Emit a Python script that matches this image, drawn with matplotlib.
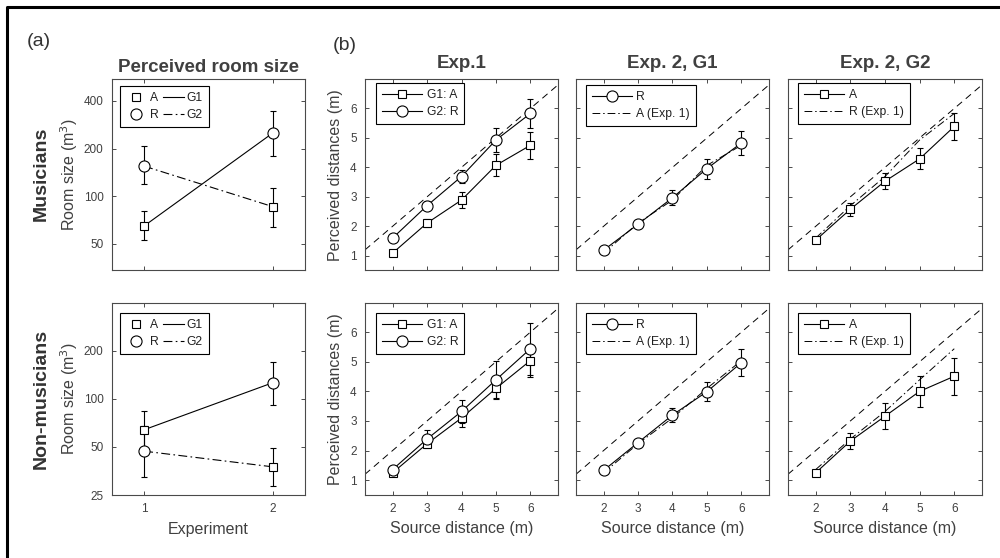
import matplotlib
matplotlib.use("Agg")
import matplotlib.pyplot as plt
from matplotlib.lines import Line2D
from matplotlib.ticker import FixedLocator, NullLocator, FixedFormatter

plt.rcParams['font.family'] = ['Liberation Sans', 'DejaVu Sans']

# ---- data -------------------------------------------------------------
experiments = [1, 2]
source_dist = [2, 3, 4, 5, 6]

# (a) perceived room size (m^3), G1 did A then R, G2 did R then A
mus_g1 = [65, 251]
mus_g1_lo = [53, 180]
mus_g1_hi = [81, 345]
mus_g2 = [155, 86]
mus_g2_lo = [119, 64]
mus_g2_hi = [207, 113]
non_g1 = [64, 126]
non_g1_lo = [49, 92]
non_g1_hi = [84, 170]
non_g2 = [47, 37.5]
non_g2_lo = [32.4, 28.5]
non_g2_hi = [68, 49.5]

# (b) perceived distances (m), mean and error
mus_exp1_A = [1.09, 2.11, 2.89, 4.07, 4.75]
mus_exp1_A_err = [0.05, 0.15, 0.27, 0.37, 0.46]
mus_exp1_R = [1.60, 2.70, 3.69, 4.93, 5.83]
mus_exp1_R_err = [0.08, 0.15, 0.22, 0.40, 0.50]
mus_exp2_g1_R = [1.19, 2.07, 2.97, 3.96, 4.83]
mus_exp2_g1_R_err = [0.05, 0.07, 0.25, 0.34, 0.40]
mus_exp2_g2_A = [1.53, 2.58, 3.53, 4.29, 5.39]
mus_exp2_g2_A_err = [0.06, 0.22, 0.28, 0.36, 0.45]

non_exp1_A = [1.25, 2.23, 3.10, 4.10, 5.04]
non_exp1_A_err = [0.05, 0.12, 0.29, 0.36, 0.54]
non_exp1_R = [1.36, 2.39, 3.32, 4.39, 5.44]
non_exp1_R_err = [0.06, 0.30, 0.40, 0.63, 0.88]
non_exp2_g1_R = [1.33, 2.27, 3.20, 3.99, 4.97]
non_exp2_g1_R_err = [0.04, 0.06, 0.25, 0.32, 0.45]
non_exp2_g2_A = [1.25, 2.32, 3.16, 4.00, 4.51]
non_exp2_g2_A_err = [0.05, 0.27, 0.43, 0.53, 0.62]

# ---- style ------------------------------------------------------------
W, H = 1000, 558
TXT = '#404040'
AX = '#4a4a4a'
LW = 0.8
DASH = (0, (7, 5))
DASHDOT = (0, (8, 3, 1.5, 3))
sq = dict(marker='s', ms=6, mfc='white', mec='black', mew=0.8)
ci = dict(marker='o', ms=8, mfc='white', mec='black', mew=0.8)
eb = dict(ecolor='black', elinewidth=0.8, capsize=2, capthick=0.8)

fig = plt.figure(figsize=(W / 100, H / 100), dpi=100)
fig.patch.set_facecolor('white')


def px_axes(x0, y0, x1, y1):
    return fig.add_axes([x0 / W, 1 - y1 / H, (x1 - x0) / W, (y1 - y0) / H])


def style_axes(ax):
    for s in ax.spines.values():
        s.set_color(AX)
        s.set_linewidth(0.8)
    ax.tick_params(which='both', direction='in', top=True, right=True,
                   length=3, width=0.7, color=AX, labelcolor=TXT,
                   labelsize=8.5, pad=6)


def add_legend(ax, handles, labels, x, y, **kw):
    leg = ax.legend(handles, labels, loc='upper left', bbox_to_anchor=(x, y),
                    borderaxespad=0, fancybox=False, framealpha=1,
                    edgecolor='black', fontsize=8.7, labelspacing=0.4,
                    borderpad=0.5, **kw)
    leg.get_frame().set_linewidth(0.8)
    for t in leg.get_texts():
        t.set_color('#202020')
    return leg


cols = [(112, 305), (365, 558), (576, 769), (788, 982)]
rows = [(79, 270.5), (302.5, 495)]

# ---- (a) room size ----------------------------------------------------
room_rows = [
    (mus_g1, mus_g1_lo, mus_g1_hi, mus_g2, mus_g2_lo, mus_g2_hi,
     (34, 550), [50, 100, 200, 400], 0.963),
    (non_g1, non_g1_lo, non_g1_hi, non_g2, non_g2_lo, non_g2_hi,
     (25, 400), [25, 50, 100, 200], 0.945),
]
for r, (g1, g1lo, g1hi, g2, g2lo, g2hi, ylim, yt, legy) in enumerate(room_rows):
    ax = px_axes(cols[0][0], rows[r][0], cols[0][1], rows[r][1])
    style_axes(ax)
    ax.set_yscale('log')
    ax.plot(experiments, g1, '-', color='black', lw=LW, zorder=2)
    ax.plot(experiments, g2, linestyle=DASHDOT, color='black', lw=LW, zorder=2)
    # condition A: G1 in exp 1, G2 in exp 2 ; condition R: the other way
    a_y = [g1[0], g2[1]]
    a_lo = [g1[0] - g1lo[0], g2[1] - g2lo[1]]
    a_hi = [g1hi[0] - g1[0], g2hi[1] - g2[1]]
    r_y = [g2[0], g1[1]]
    r_lo = [g2[0] - g2lo[0], g1[1] - g1lo[1]]
    r_hi = [g2hi[0] - g2[0], g1hi[1] - g1[1]]
    ax.errorbar(experiments, r_y, yerr=[r_lo, r_hi], fmt='none', zorder=3, **eb)
    ax.errorbar(experiments, a_y, yerr=[a_lo, a_hi], fmt='none', zorder=3, **eb)
    ax.plot(experiments, r_y, linestyle='none', zorder=4, **ci)
    ax.plot(experiments, a_y, linestyle='none', zorder=4, **sq)
    ax.set_xlim(0.75, 2.25)
    ax.set_ylim(*ylim)
    ax.yaxis.set_major_locator(FixedLocator(yt))
    ax.yaxis.set_major_formatter(FixedFormatter([str(v) for v in yt]))
    ax.yaxis.set_minor_locator(NullLocator())
    ax.set_xticks(experiments)
    if r == 0:
        ax.set_xticklabels([])
        ax.set_title('Perceived room size', fontsize=13.5, fontweight='bold',
                     color=TXT, pad=5)
    else:
        ax.set_xlabel('Experiment', fontsize=11.5, color=TXT, labelpad=5)
    ax.set_ylabel('Room size (m$^3$)', fontsize=11.5, color=TXT, labelpad=3)
    h = [Line2D([], [], linestyle='none', **sq),
         Line2D([], [], linestyle='none', **ci),
         Line2D([], [], color='black', lw=LW),
         Line2D([], [], color='black', lw=LW, linestyle=DASHDOT)]
    add_legend(ax, h, ['A', 'R', 'G1', 'G2'], 0.041, legy, ncol=2,
               handlelength=1.7, handletextpad=0.25, columnspacing=0.4)

# ---- (b) distances ----------------------------------------------------
panels = [
    # row 0: musicians
    [
        ('Exp.1', [(mus_exp1_A, mus_exp1_A_err, sq), (mus_exp1_R, mus_exp1_R_err, ci)],
         None, ['G1: A', 'G2: R'], 0.977),
        ('Exp. 2, G1', [(mus_exp2_g1_R, mus_exp2_g1_R_err, ci)],
         mus_exp1_A, ['R', 'A (Exp. 1)'], 0.969),
        ('Exp. 2, G2', [(mus_exp2_g2_A, mus_exp2_g2_A_err, sq)],
         mus_exp1_R, ['A', 'R (Exp. 1)'], 0.979),
    ],
    # row 1: non-musicians
    [
        ('', [(non_exp1_A, non_exp1_A_err, sq), (non_exp1_R, non_exp1_R_err, ci)],
         None, ['G1: A', 'G2: R'], 0.944),
        ('', [(non_exp2_g1_R, non_exp2_g1_R_err, ci)],
         non_exp1_A, ['R', 'A (Exp. 1)'], 0.946),
        ('', [(non_exp2_g2_A, non_exp2_g2_A_err, sq)],
         non_exp1_R, ['A', 'R (Exp. 1)'], 0.946),
    ],
]
leg_x = [0.057, 0.05, 0.052]

for r in range(2):
    for c in range(3):
        title, series, ref, labels, legy = panels[r][c]
        ax = px_axes(cols[c + 1][0], rows[r][0], cols[c + 1][1], rows[r][1])
        style_axes(ax)
        ax.axline((0, 0), slope=1, color='black', lw=0.7, linestyle=DASH, zorder=1)
        handles = []
        if ref is not None:
            ax.plot(source_dist, ref, color='black', lw=0.7, linestyle=DASHDOT, zorder=2)
        for vals, err, mk in series:
            ax.errorbar(source_dist, vals, yerr=err, fmt='none', zorder=3, **eb)
            ln, = ax.plot(source_dist, vals, '-', color='black', lw=LW, zorder=4, **mk)
            handles.append(ln)
        if ref is not None:
            handles.append(Line2D([], [], color='black', lw=0.7, linestyle=DASHDOT))
        ax.set_xlim(1.2, 6.8)
        ax.set_ylim(0.5, 7)
        ax.set_xticks(source_dist)
        ax.set_yticks([1, 2, 3, 4, 5, 6])
        if c > 0:
            ax.set_yticklabels([])
        else:
            ax.set_ylabel('Perceived distances (m)', fontsize=11.5, color=TXT, labelpad=5)
        if r == 0:
            ax.set_xticklabels([])
            ax.set_title(title, fontsize=13.5, fontweight='bold', color=TXT, pad=8)
        else:
            ax.set_xlabel('Source distance (m)', fontsize=11.5, color=TXT, labelpad=4)
        add_legend(ax, handles, labels, leg_x[c], legy,
                   handlelength=3.3, handletextpad=0.4)

# ---- row and panel labels --------------------------------------------
fig.text(41 / W, 1 - 174 / H, 'Musicians', rotation=90, ha='center', va='center',
         fontsize=14, fontweight='bold', color='#333333')
fig.text(41 / W, 1 - 399 / H, 'Non-musicians', rotation=90, ha='center', va='center',
         fontsize=14, fontweight='bold', color='#333333')
fig.text(27 / W, 1 - 42 / H, '(a)', ha='left', va='center', fontsize=14, color='#333333')
fig.text(333 / W, 1 - 45 / H, '(b)', ha='left', va='center', fontsize=14, color='#333333')

# frame on the left and top edge
fig.add_artist(Line2D([6.5 / W, 6.5 / W, 1.0], [0.0, 1 - 6.5 / H, 1 - 6.5 / H],
                      transform=fig.transFigure, color='black', lw=2.2))

fig.savefig('out.png', dpi=100, facecolor='white')
